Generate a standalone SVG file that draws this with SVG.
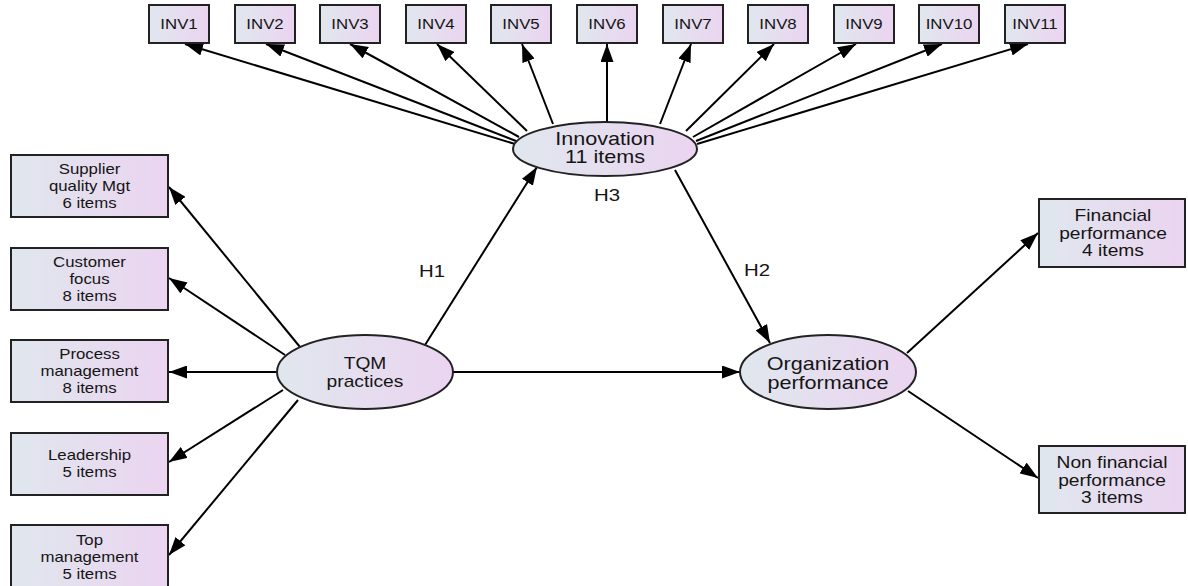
<svg xmlns="http://www.w3.org/2000/svg" width="1188" height="586" viewBox="0 0 1188 586">
<defs>
<linearGradient id="g" x1="0" y1="0" x2="1" y2="0">
<stop offset="0" stop-color="#e0e7ee"/>
<stop offset="1" stop-color="#ebd4f0"/>
</linearGradient>
<marker id="ah" markerUnits="userSpaceOnUse" markerWidth="19" markerHeight="13" refX="18" refY="6.5" orient="auto">
<path d="M0,0 L18,6.5 L0,13 Z" fill="#000"/>
</marker>
</defs>
<style>
.box{fill:url(#g);stroke:#222;stroke-width:2}
.ell{fill:url(#g);stroke:#222;stroke-width:2}
.c{stroke:#000;stroke-width:2;fill:none;marker-end:url(#ah)}
text{font-family:"Liberation Sans",Arial,sans-serif;fill:#151515;text-anchor:middle}
.s14{font-size:14px}
.s16{font-size:16px}
.s17{font-size:17px}
.s18{font-size:18px}
</style>
<rect width="1188" height="586" fill="#fff"/>
<g id="connectors">
<line class="c" x1="515" y1="144" x2="185" y2="44"/>
<line class="c" x1="516" y1="141" x2="266" y2="44"/>
<line class="c" x1="519" y1="137" x2="350" y2="44"/>
<line class="c" x1="527" y1="131" x2="437" y2="44"/>
<line class="c" x1="553" y1="124" x2="522" y2="44"/>
<line class="c" x1="607" y1="122" x2="607" y2="44"/>
<line class="c" x1="660" y1="124" x2="691" y2="44"/>
<line class="c" x1="686" y1="131" x2="774" y2="44"/>
<line class="c" x1="693" y1="137" x2="856" y2="44"/>
<line class="c" x1="696" y1="141" x2="942" y2="44"/>
<line class="c" x1="697" y1="144" x2="1028" y2="44"/>
<line class="c" x1="300" y1="347" x2="169" y2="187"/>
<line class="c" x1="285" y1="355" x2="169" y2="278"/>
<line class="c" x1="277" y1="372" x2="169" y2="372"/>
<line class="c" x1="283" y1="390" x2="169" y2="462"/>
<line class="c" x1="298" y1="400" x2="169" y2="555"/>
<line class="c" x1="425" y1="345" x2="537" y2="167"/>
<line class="c" x1="453" y1="372" x2="740" y2="372"/>
<line class="c" x1="675" y1="170" x2="770" y2="343"/>
<line class="c" x1="907" y1="353" x2="1038" y2="233"/>
<line class="c" x1="908" y1="391" x2="1038" y2="478"/>
</g>
<g id="labels">
<text class="s17" transform="translate(432,0) scale(1.2,1)" x="0" y="277">H1</text>
<text class="s17" transform="translate(607,0) scale(1.2,1)" x="0" y="201">H3</text>
<text class="s17" transform="translate(757,0) scale(1.2,1)" x="0" y="276">H2</text>
</g>
<g id="inv1"><rect class="box" x="149" y="5" width="60" height="38"/><text class="s14" transform="translate(179,0) scale(1.2,1)" x="0" y="29">INV1</text></g>
<g id="inv2"><rect class="box" x="235" y="5" width="60" height="38"/><text class="s14" transform="translate(265,0) scale(1.2,1)" x="0" y="29">INV2</text></g>
<g id="inv3"><rect class="box" x="320" y="5" width="60" height="38"/><text class="s14" transform="translate(350,0) scale(1.2,1)" x="0" y="29">INV3</text></g>
<g id="inv4"><rect class="box" x="406" y="5" width="60" height="38"/><text class="s14" transform="translate(436,0) scale(1.2,1)" x="0" y="29">INV4</text></g>
<g id="inv5"><rect class="box" x="491" y="5" width="60" height="38"/><text class="s14" transform="translate(521,0) scale(1.2,1)" x="0" y="29">INV5</text></g>
<g id="inv6"><rect class="box" x="577" y="5" width="60" height="38"/><text class="s14" transform="translate(607,0) scale(1.2,1)" x="0" y="29">INV6</text></g>
<g id="inv7"><rect class="box" x="663" y="5" width="60" height="38"/><text class="s14" transform="translate(693,0) scale(1.2,1)" x="0" y="29">INV7</text></g>
<g id="inv8"><rect class="box" x="748" y="5" width="60" height="38"/><text class="s14" transform="translate(778,0) scale(1.2,1)" x="0" y="29">INV8</text></g>
<g id="inv9"><rect class="box" x="834" y="5" width="60" height="38"/><text class="s14" transform="translate(864,0) scale(1.2,1)" x="0" y="29">INV9</text></g>
<g id="inv10"><rect class="box" x="919" y="5" width="60" height="38"/><text class="s14" transform="translate(949,0) scale(1.2,1)" x="0" y="29">INV10</text></g>
<g id="inv11"><rect class="box" x="1005" y="5" width="60" height="38"/><text class="s14" transform="translate(1035,0) scale(1.2,1)" x="0" y="29">INV11</text></g>
<g id="innovation"><ellipse class="ell" cx="605" cy="149" rx="92" ry="27"/><text class="s18" transform="translate(605,0) scale(1.2,1)"><tspan x="0" y="145">Innovation</tspan><tspan x="0" y="163">11 items</tspan></text></g>
<g id="supplier"><rect class="box" x="11" y="155" width="157" height="62"/><text class="s14" transform="translate(89.5,0) scale(1.2,1)"><tspan x="0" y="174">Supplier</tspan><tspan x="0" y="191">quality Mgt</tspan><tspan x="0" y="208">6 items</tspan></text></g>
<g id="customer"><rect class="box" x="11" y="248" width="157" height="62"/><text class="s14" transform="translate(89.5,0) scale(1.2,1)"><tspan x="0" y="267">Customer</tspan><tspan x="0" y="284">focus</tspan><tspan x="0" y="301">8 items</tspan></text></g>
<g id="process"><rect class="box" x="11" y="340" width="157" height="62"/><text class="s14" transform="translate(89.5,0) scale(1.2,1)"><tspan x="0" y="359">Process</tspan><tspan x="0" y="376">management</tspan><tspan x="0" y="393">8 items</tspan></text></g>
<g id="leadership"><rect class="box" x="11" y="433" width="157" height="62"/><text class="s14" transform="translate(89.5,0) scale(1.2,1)"><tspan x="0" y="460">Leadership</tspan><tspan x="0" y="477">5 items</tspan></text></g>
<g id="topmgmt"><rect class="box" x="11" y="525" width="157" height="63"/><text class="s14" transform="translate(89.5,0) scale(1.2,1)"><tspan x="0" y="545">Top</tspan><tspan x="0" y="562">management</tspan><tspan x="0" y="579">5 items</tspan></text></g>
<g id="tqm"><ellipse class="ell" cx="365" cy="372" rx="88" ry="37"/><text class="s16" transform="translate(365,0) scale(1.2,1)"><tspan x="0" y="369">TQM</tspan><tspan x="0" y="387">practices</tspan></text></g>
<g id="org"><ellipse class="ell" cx="828" cy="372" rx="88" ry="37"/><text class="s18" transform="translate(828,0) scale(1.2,1)"><tspan x="0" y="370">Organization</tspan><tspan x="0" y="389">performance</tspan></text></g>
<g id="financial"><rect class="box" x="1039" y="199" width="146" height="68"/><text class="s16" transform="translate(1113,0) scale(1.2,1)"><tspan x="0" y="221">Financial</tspan><tspan x="0" y="239">performance</tspan><tspan x="0" y="256">4 items</tspan></text></g>
<g id="nonfinancial"><rect class="box" x="1039" y="446" width="146" height="67"/><text class="s16" transform="translate(1112,0) scale(1.2,1)"><tspan x="0" y="468">Non financial</tspan><tspan x="0" y="486">performance</tspan><tspan x="0" y="503">3 items</tspan></text></g>
</svg>
